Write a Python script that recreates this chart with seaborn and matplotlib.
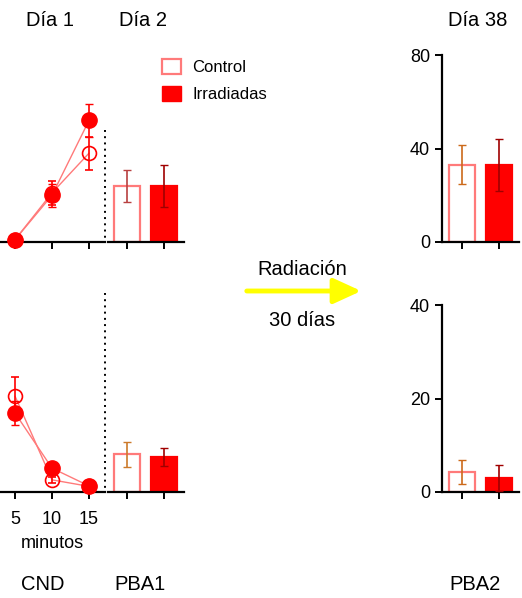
import matplotlib
matplotlib.use("Agg")
import matplotlib.pyplot as plt
from matplotlib.patches import Patch, FancyArrowPatch
from matplotlib.lines import Line2D
import seaborn as sns
import pandas as pd

# datos
minutos = [5, 10, 15]
grupos = ["Control", "Irradiadas"]

# fila superior
cnd_ctrl_sup = [1, 21, 38]
cnd_ctrl_sup_err = [0.5, 5, 7]
cnd_irr_sup = [1, 20, 52]
cnd_irr_sup_err = [0.5, 5, 7]
pba1_sup = [24, 24]
pba1_sup_err = [7, 9]
pba2_sup = [33, 33]
pba2_sup_err = [8.3, 11]

# fila inferior
cnd_ctrl_inf = [20.5, 2.6, 1.2]
cnd_ctrl_inf_err = [4, 0.6, 0.3]
cnd_irr_inf = [16.9, 5.1, 1.3]
cnd_irr_inf_err = [2.5, 1.0, 0.3]
pba1_inf = [8.1, 7.5]
pba1_inf_err = [2.7, 1.9]
pba2_inf = [4.3, 3.0]
pba2_inf_err = [2.5, 2.8]

ROJO = "#ff0000"
ROJO_CLARO = "#ff7a7a"
W, H = 522, 598

sns.set_theme(style="ticks")
plt.rcParams["font.family"] = ["Liberation Sans", "DejaVu Sans"]
plt.rcParams["text.color"] = "black"
plt.rcParams["axes.labelcolor"] = "black"

fig = plt.figure(figsize=(W / 100, H / 100), dpi=100)


def rect(x0, y0, w, h):
    return [x0 / W, 1 - (y0 + h) / H, w / W, h / H]


def estilo(ax, ymax, eje_y=False):
    ax.set_ylim(0, ymax)
    ax.set_facecolor("none")
    sns.despine(ax=ax, left=not eje_y)
    for s in ax.spines.values():
        s.set_linewidth(1.6)
        s.set_color("black")
    ax.tick_params(axis="both", length=5, width=1.4, labelsize=13,
                   color="black", labelcolor="black")
    if not eje_y:
        ax.set_yticks([])
    ax.set_xlabel("")
    ax.set_ylabel("")


def lineas(ax, ctrl, ctrl_err, irr, irr_err, ymax, etiquetas):
    df = pd.DataFrame({"min": minutos * 2,
                       "val": ctrl + irr,
                       "grupo": ["Control"] * 3 + ["Irradiadas"] * 3})
    sns.lineplot(data=df, x="min", y="val", units="grupo", estimator=None,
                 color=ROJO_CLARO, lw=1, ax=ax, legend=False)
    ax.errorbar(minutos, ctrl, yerr=ctrl_err, fmt="o", ms=10, mfc="none",
                mec=ROJO, mew=1.2, ecolor=ROJO, elinewidth=1.2, capsize=3,
                clip_on=False, zorder=3)
    ax.errorbar(minutos, irr, yerr=irr_err, fmt="o", ms=11, mfc=ROJO,
                mec=ROJO, ecolor=ROJO, elinewidth=1.2, capsize=3,
                clip_on=False, zorder=4)
    ax.set_xlim(5 - 15 / 7.4, 5 - 15 / 7.4 + 105 / 7.4)
    estilo(ax, ymax)
    ax.set_xticks(minutos)
    if etiquetas:
        ax.set_xticklabels([str(m) for m in minutos])
        ax.tick_params(axis="x", pad=9)
        ax.set_xlabel("minutos", fontsize=13, labelpad=5, color="black")
    else:
        ax.set_xticklabels([])


def barras(ax, vals, errs, ymax, xmin, ancho_px, err_colores, eje_y=False):
    df = pd.DataFrame({"grupo": grupos, "val": vals})
    sns.barplot(data=df, x="grupo", y="val", hue="grupo", saturation=1,
                palette=["white", ROJO], width=0.68, legend=False, ax=ax)
    for p, ec in zip(ax.patches, [ROJO_CLARO, ROJO]):
        p.set_edgecolor(ec)
        p.set_linewidth(1.6)
    for i, (v, e, c) in enumerate(zip(vals, errs, err_colores)):
        ax.errorbar(i, v, yerr=e, fmt="none", ecolor=c, elinewidth=1.2,
                    capsize=3, zorder=3)
    ax.set_xlim(xmin, xmin + ancho_px / 37)
    estilo(ax, ymax, eje_y)
    ax.set_xticks([0, 1])
    ax.set_xticklabels([])


# fila superior
ax1 = fig.add_axes(rect(0, 55, 105, 187))
lineas(ax1, cnd_ctrl_sup, cnd_ctrl_sup_err, cnd_irr_sup, cnd_irr_sup_err, 80, False)
ax2 = fig.add_axes(rect(108, 55, 76, 187))
barras(ax2, pba1_sup, pba1_sup_err, 80, -19 / 37, 76, ["#b84040", "#a00000"])
ax3 = fig.add_axes(rect(442, 55, 77, 187))
barras(ax3, pba2_sup, pba2_sup_err, 80, -20 / 37, 77, ["#cc6a1a", "#a00000"], True)
ax3.set_yticks([0, 40, 80])

# fila inferior
ax4 = fig.add_axes(rect(0, 305, 105, 187))
lineas(ax4, cnd_ctrl_inf, cnd_ctrl_inf_err, cnd_irr_inf, cnd_irr_inf_err, 40, True)
ax5 = fig.add_axes(rect(108, 305, 76, 187))
barras(ax5, pba1_inf, pba1_inf_err, 40, -19 / 37, 76, ["#cc7a2a", "#a00000"])
ax6 = fig.add_axes(rect(442, 305, 77, 187))
barras(ax6, pba2_inf, pba2_inf_err, 40, -20 / 37, 77, ["#cc6a1a", "#a00000"], True)
ax6.set_yticks([0, 20, 40])

# lineas punteadas verticales
for y0, y1 in [(130, 242), (293, 492)]:
    fig.add_artist(Line2D([105 / W, 105 / W], [1 - y0 / H, 1 - y1 / H],
                          transform=fig.transFigure, color="black",
                          lw=1.4, ls=(0, (1, 2.2))))

# titulos y rotulos
kw = dict(ha="center", va="center", fontsize=14.5, color="black")
fig.text(50 / W, 1 - 20 / H, "Día 1", **kw)
fig.text(143 / W, 1 - 20 / H, "Día 2", **kw)
fig.text(478 / W, 1 - 20 / H, "Día 38", **kw)
fig.text(43 / W, 1 - 585 / H, "CND", **kw)
fig.text(140 / W, 1 - 585 / H, "PBA1", **kw)
fig.text(475 / W, 1 - 585 / H, "PBA2", **kw)

# flecha de radiacion
fig.text(302 / W, 1 - 270 / H, "Radiación", **kw)
fig.text(302 / W, 1 - 320 / H, "30 días", **kw)
fig.add_artist(FancyArrowPatch((244 / W, 1 - 291 / H), (364 / W, 1 - 291 / H),
                               transform=fig.transFigure, color="#ffff00",
                               arrowstyle="-|>,head_length=1.2,head_width=0.55",
                               lw=3.5, mutation_scale=14))

# leyenda
handles = [Patch(facecolor="white", edgecolor=ROJO_CLARO, lw=1.6, label="Control"),
           Patch(facecolor=ROJO, edgecolor=ROJO, label="Irradiadas")]
leg = fig.legend(handles=handles, loc="upper left", bbox_to_anchor=(155 / W, 1 - 52 / H),
                 frameon=False, fontsize=12, handlelength=1.15, handleheight=1.0,
                 labelspacing=0.65, handletextpad=0.7, borderaxespad=0)
for t in leg.get_texts():
    t.set_color("black")

fig.savefig("out.png", dpi=100)
